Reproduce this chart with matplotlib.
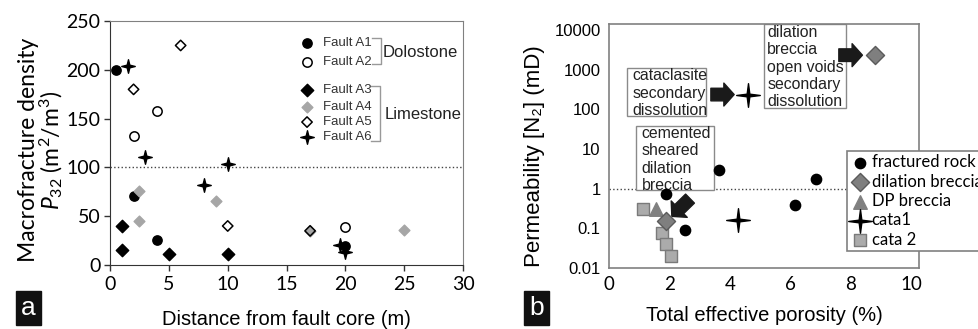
import numpy as np
import matplotlib
matplotlib.use('Agg')
import matplotlib.pyplot as plt
from matplotlib.path import Path
from matplotlib.patches import Rectangle

plt.rcParams['font.family'] = ['Liberation Sans', 'DejaVu Sans']
plt.rcParams['mathtext.fontset'] = 'custom'
plt.rcParams['mathtext.rm'] = 'Lato'
plt.rcParams['mathtext.it'] = 'Lato:italic'

# ---- panel a data: distance from fault core (m), P32 (m2/m3)
a1_x = [0.5, 2.0, 4.0, 20.0]
a1_y = [200, 71, 26, 19]
a2_x = [2.0, 4.0, 20.0]
a2_y = [132, 158, 39]
a3_x = [1.0, 1.0, 5.0, 10.0]
a3_y = [40, 15, 11, 11]
a4_x = [2.5, 2.5, 9.0, 17.0, 25.0]
a4_y = [76, 45, 66, 35, 36]
a5_x = [6.0, 2.0, 10.0, 17.0]
a5_y = [225, 180, 40, 35]
a6_x = [1.5, 3.0, 8.0, 10.0, 19.5, 20.0]
a6_y = [204, 111, 82, 104, 21, 13]

# ---- panel b data: total effective porosity (%), permeability (mD)
frac_x = [1.9, 2.52, 3.64, 6.16, 6.84]
frac_y = [0.72, 0.091, 2.9, 0.38, 1.7]
dil_x = [1.88, 8.8]
dil_y = [0.15, 2300]
dp_x = [1.55]
dp_y = [0.30]
cata1_x = [4.28, 4.61]
cata1_y = [0.16, 234]
cata2_x = [1.13, 1.76, 1.90, 2.04]
cata2_y = [0.30, 0.078, 0.040, 0.020]


def star4(inner):
    verts = []
    for k in range(8):
        ang = np.pi / 2 - k * np.pi / 4
        r = 1.0 if k % 2 == 0 else inner
        verts.append((r * np.cos(ang), r * np.sin(ang)))
    verts.append(verts[0])
    return Path(verts, [Path.MOVETO] + [Path.LINETO] * 7 + [Path.CLOSEPOLY])


star_a = star4(0.28)
star_b = star4(0.16)

fig = plt.figure(figsize=(9.79, 3.29), dpi=100)

# ================= panel a
ax = fig.add_axes([0.1124, 0.1945, 0.3606, 0.7415])
ax.scatter(a1_x, a1_y, marker='o', s=45, c='black', zorder=3)
ax.scatter(a2_x, a2_y, marker='o', s=45, facecolors='white', edgecolors='black', linewidths=1.1, zorder=3)
ax.scatter(a3_x, a3_y, marker='D', s=40, c='black', zorder=3)
ax.scatter(a4_x, a4_y, marker='D', s=30, c='#a6a6a6', zorder=3)
ax.scatter(a5_x, a5_y, marker='D', s=28, facecolors='none', edgecolors='black', linewidths=1.1, zorder=3)
ax.scatter(a6_x, a6_y, marker=star_a, s=95, c='black', zorder=3)
ax.axhline(100, color='#444444', ls=':', lw=1)

ax.set_xlim(0, 30)
ax.set_ylim(0, 250)
ax.set_xticks(range(0, 31, 5))
ax.set_yticks(range(0, 251, 50))
for lab in ax.get_xticklabels() + ax.get_yticklabels():
    lab.set_family('Lato')
    lab.set_fontsize(14)
ax.tick_params(direction='out', length=4, width=1, color='#333333', pad=3)
ax.tick_params(axis='x', pad=4)
ax.spines['left'].set_color('#333333')
ax.spines['bottom'].set_color('#333333')
ax.spines['top'].set_color('#808080')
ax.spines['right'].set_color('#808080')
ax.set_xlabel('Distance from fault core (m)', fontsize=14.5, labelpad=12)
ax.set_ylabel('Macrofracture density\n$P_{32}$ (m$^2$/m$^3$)', fontsize=16.5,
              family='Lato', linespacing=0.95, labelpad=1)
ax.yaxis.label.set_y(0.47)

# legend of panel a (drawn in axes fraction)
leg_rows = [0.910, 0.832, 0.717, 0.648, 0.586, 0.525]
leg_names = ['Fault A1', 'Fault A2', 'Fault A3', 'Fault A4', 'Fault A5', 'Fault A6']
leg_style = [dict(marker='o', s=45, c='black'),
             dict(marker='o', s=45, facecolors='white', edgecolors='black', linewidths=1.1),
             dict(marker='D', s=40, c='black'),
             dict(marker='D', s=30, c='#a6a6a6'),
             dict(marker='D', s=28, facecolors='none', edgecolors='black', linewidths=1.1),
             dict(marker=star_a, s=95, c='black')]
for yy, name, st in zip(leg_rows, leg_names, leg_style):
    ax.scatter([0.558], [yy], transform=ax.transAxes, clip_on=False, **st)
    ax.text(0.603, yy, name, transform=ax.transAxes, fontsize=9.5, color='#333333', va='center')
bx0, bx1 = 0.743, 0.768
ax.plot([bx0, bx1, bx1, bx0], [0.93, 0.93, 0.823, 0.823], transform=ax.transAxes, color='#999999', lw=1)
ax.text(0.772, 0.871, 'Dolostone', transform=ax.transAxes, fontsize=12, color='#222222', va='center')
ax.plot([bx0 - 0.003, bx1 - 0.003, bx1 - 0.003, 0.74], [0.734, 0.734, 0.51, 0.51], transform=ax.transAxes, color='#999999', lw=1)
ax.text(0.778, 0.615, 'Limestone', transform=ax.transAxes, fontsize=12, color='#222222', va='center')

# ================= panel b
bx = fig.add_axes([0.622, 0.1854, 0.3167, 0.7416])
bx.set_yscale('log')
bx.set_xlim(0, 10.25)
bx.set_ylim(0.01, 14000)
bx.axhline(1, color='#444444', ls=':', lw=1, zorder=1)
h1 = bx.scatter(frac_x, frac_y, marker='o', s=55, c='black', zorder=3, label='fractured rock')
h4 = bx.scatter(cata1_x, cata1_y, marker=star_b, s=290, c='black', zorder=3, label='cata1')
h5 = bx.scatter(cata2_x, cata2_y, marker='s', s=75, facecolors='#ababab', edgecolors='#7a7a7a', linewidths=1, zorder=3, label='cata 2')
h3 = bx.scatter(dp_x, dp_y, marker='^', s=95, c='#808080', zorder=4, label='DP breccia')
h2 = bx.scatter(dil_x, dil_y, marker='D', s=85, facecolors='#7f7f7f', edgecolors='#5a5a5a', linewidths=1, zorder=5, label='dilation breccia')

bx.set_xticks(range(0, 11, 2))
bx.set_yticks([0.01, 0.1, 1, 10, 100, 1000, 10000])
bx.set_yticklabels(['0.01', '0.1', '1', '10', '100', '1000', '10000'])
bx.minorticks_off()
bx.tick_params(length=0, pad=6)
for lab in bx.get_xticklabels():
    lab.set_family('Lato')
    lab.set_fontsize(13.5)
for lab in bx.get_yticklabels():
    lab.set_fontsize(12)
for sp in bx.spines.values():
    sp.set_color('#808080')
    sp.set_linewidth(1.2)
bx.set_xlabel('Total effective porosity (%)', fontsize=14.5, labelpad=9)
bx.set_ylabel('Permeability [N\u2082] (mD)', fontsize=16, labelpad=7)
bx.yaxis.label.set_y(0.46)

# text boxes: (lower-left), width, height, text anchor (top-left), text
boxes = [((0.057, 0.623), 0.256, 0.198, (0.0765, 0.818), 'cataclasite\nsecondary\ndissolution'),
         ((0.086, 0.320), 0.253, 0.262, (0.105, 0.582), 'cemented\nsheared\ndilation\nbreccia'),
         ((0.500, 0.656), 0.264, 0.344, (0.511, 0.997), 'dilation\nbreccia\nopen voids\nsecondary\ndissolution')]
for (x0, y0), w, h, (tx, ty), txt in boxes:
    bx.add_patch(Rectangle((x0, y0), w, h, transform=bx.transAxes, fill=True, fc='white',
                           ec='#8a8a8a', lw=1, zorder=2))
    bx.text(tx, ty, txt, transform=bx.transAxes, fontsize=11.4, color='#222222',
            ha='left', va='top', linespacing=1.2, zorder=2.5)

# block arrows
arrow_kw = dict(arrowstyle='simple,head_length=0.45,head_width=1.0,tail_width=0.55',
                fc='#1a1a1a', ec='#1a1a1a', mutation_scale=16.5, shrinkA=0, shrinkB=0)
bx.annotate('', xy=(4.14, 234), xytext=(3.37, 234), arrowprops=arrow_kw, zorder=4)
bx.annotate('', xy=(8.38, 2300), xytext=(7.6, 2300), arrowprops=arrow_kw, zorder=4)
bx.annotate('', xy=(2.08, 0.2), xytext=(2.68, 0.56), arrowprops=arrow_kw, zorder=4)

leg = bx.legend(handles=[h1, h2, h3, h4, h5], loc='upper left', bbox_to_anchor=(0.767, 0.4795),
                frameon=True, fancybox=False, edgecolor='#808080', framealpha=1,
                prop={'family': 'Lato', 'size': 12}, handletextpad=0.1, handlelength=1.2,
                borderpad=0.2, labelspacing=0.2, borderaxespad=0, scatterpoints=1)
leg.get_frame().set_linewidth(1.2)
leg.set_zorder(6)

# panel labels
for x, lab in [(0.029, 'a'), (0.548, 'b')]:
    fig.text(x, 0.064, lab, fontsize=19, color='white', ha='center', va='center',
             bbox=dict(boxstyle='square,pad=0.18', fc='#111111', ec='#111111'))

fig.savefig('out.png', dpi=100)
